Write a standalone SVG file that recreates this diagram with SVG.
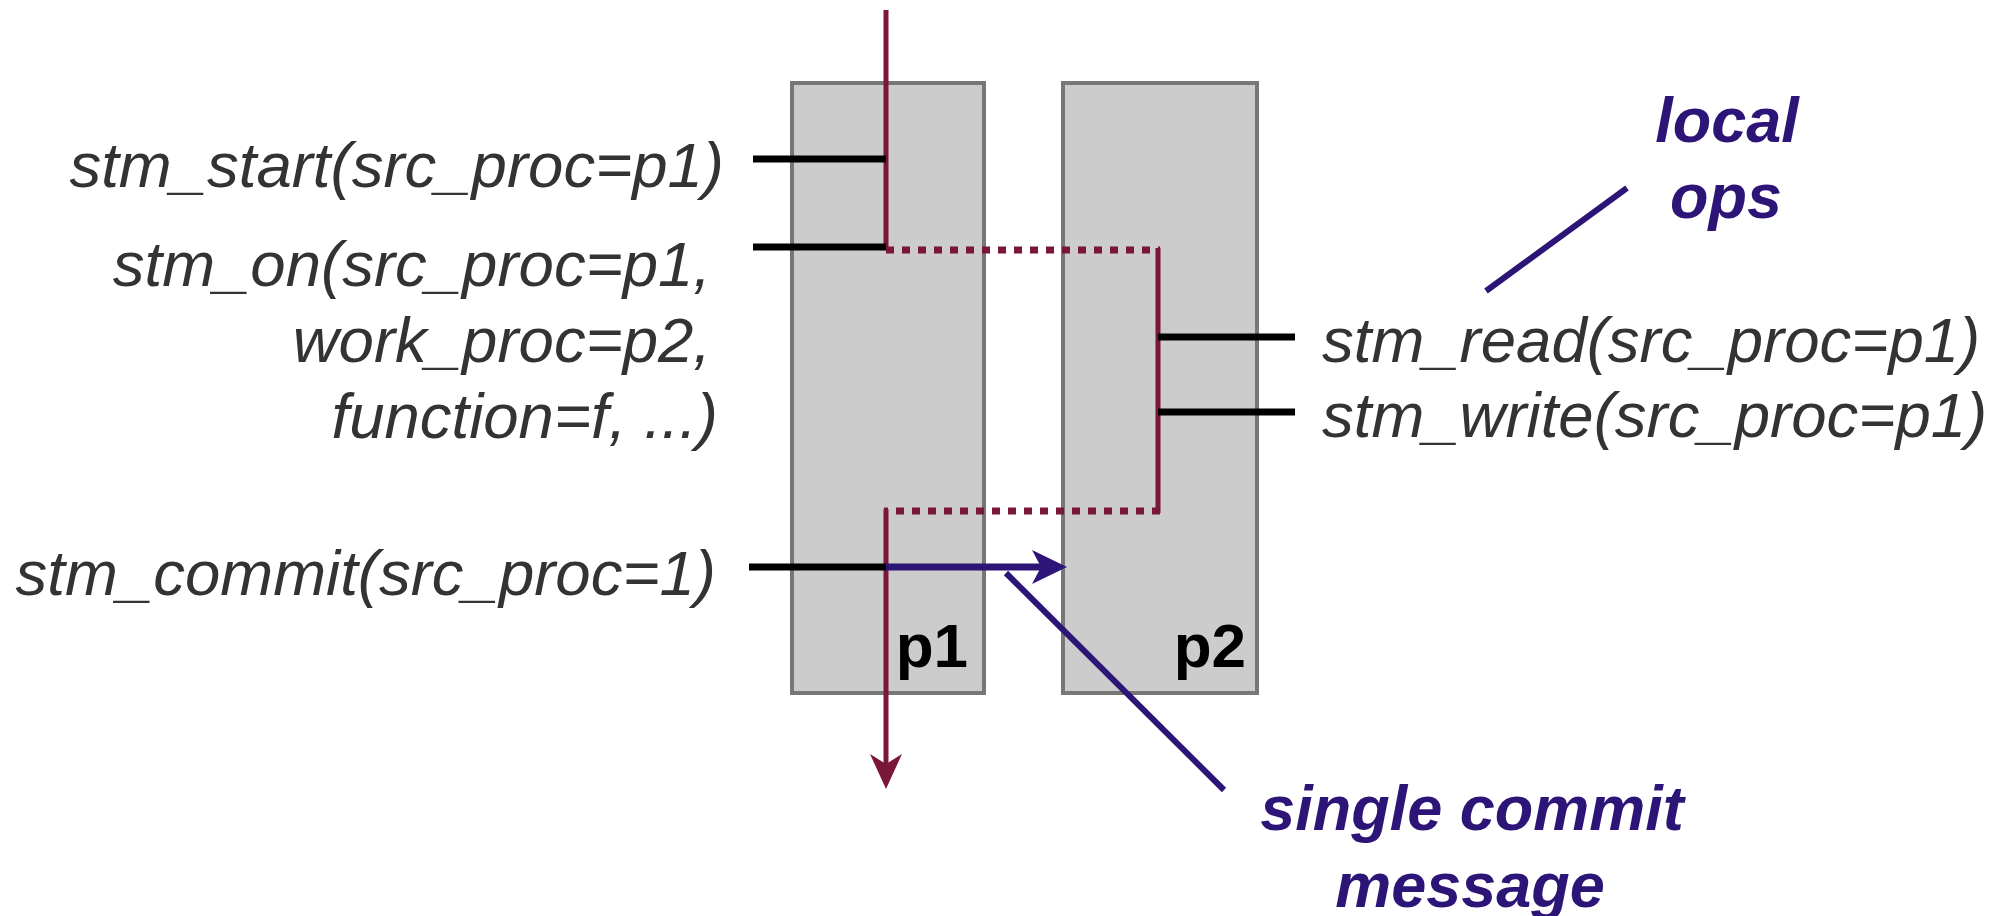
<svg xmlns="http://www.w3.org/2000/svg" width="2002" height="916" viewBox="0 0 2002 916">
<style>
.box{fill:#cccccc;stroke:#777777;stroke-width:4}
.tick{stroke:#000;stroke-width:7;fill:none}
.red{stroke:#7a1638;stroke-width:5;fill:none}
.dot{stroke:#7a1638;stroke-width:7;stroke-dasharray:8 8;fill:none}
.blue{stroke:#2d1477;stroke-width:7;fill:none}
.call{stroke:#2d1477;stroke-width:6;fill:none}
.lbl{font-family:"Liberation Sans",Arial,sans-serif;font-style:italic;font-size:63.5px;fill:#333333}
.note{font-family:"Liberation Sans",Arial,sans-serif;font-style:italic;font-weight:bold;font-size:63px;fill:#2d1477;text-anchor:middle}
.pn{font-family:"Liberation Sans",Arial,sans-serif;font-weight:bold;font-size:62px;fill:#000;text-anchor:end}
</style>
<rect width="2002" height="916" fill="#ffffff"/>
<g id="p1">
<rect class="box" x="792" y="83" width="192" height="610"/>
<text class="pn" x="968" y="667">p1</text>
</g>
<g id="p2">
<rect class="box" x="1063" y="83" width="194" height="610"/>
<text class="pn" x="1246" y="667">p2</text>
</g>
<g id="connectors">
<line class="red" x1="886" y1="10" x2="886" y2="250"/>
<line class="tick" x1="753" y1="159" x2="886" y2="159"/>
<line class="tick" x1="753" y1="247" x2="886" y2="247"/>
<line class="dot" x1="886" y1="250" x2="1160" y2="250"/>
<line class="red" x1="1158" y1="248" x2="1158" y2="513"/>
<line class="dot" x1="1160" y1="511" x2="884" y2="511"/>
<line class="tick" x1="1158" y1="337" x2="1295" y2="337"/>
<line class="tick" x1="1158" y1="412" x2="1295" y2="412"/>
<line class="red" x1="886" y1="509" x2="886" y2="770"/>
<path d="M886,789 L870,754 L886,764 L902,754 Z" fill="#7a1638"/>
<line class="tick" x1="749" y1="567" x2="886" y2="567"/>
<line class="blue" x1="886" y1="567" x2="1045" y2="567"/>
<path d="M1067,567 L1032,550 L1041,567 L1032,584 Z" fill="#2d1477"/>
<line class="call" x1="1006" y1="573" x2="1224" y2="790"/>
<line class="call" x1="1486" y1="291" x2="1627" y2="188"/>
</g>
<g id="labels">
<text class="lbl" x="724" y="187" text-anchor="end">stm_start(src_proc=p1)</text>
<text class="lbl" x="711" y="286" text-anchor="end">stm_on(src_proc=p1,</text>
<text class="lbl" x="711" y="362" text-anchor="end">work_proc=p2,</text>
<text class="lbl" x="718" y="438" text-anchor="end">function=f, ...)</text>
<text class="lbl" x="716" y="595" text-anchor="end">stm_commit(src_proc=1)</text>
<text class="lbl" x="1322" y="362">stm_read(src_proc=p1)</text>
<text class="lbl" x="1322" y="437">stm_write(src_proc=p1)</text>
<text class="note" x="1727" y="142">local</text>
<text class="note" x="1726" y="218">ops</text>
<text class="note" x="1472" y="830">single commit</text>
<text class="note" x="1470" y="907">message</text>
</g>
</svg>
